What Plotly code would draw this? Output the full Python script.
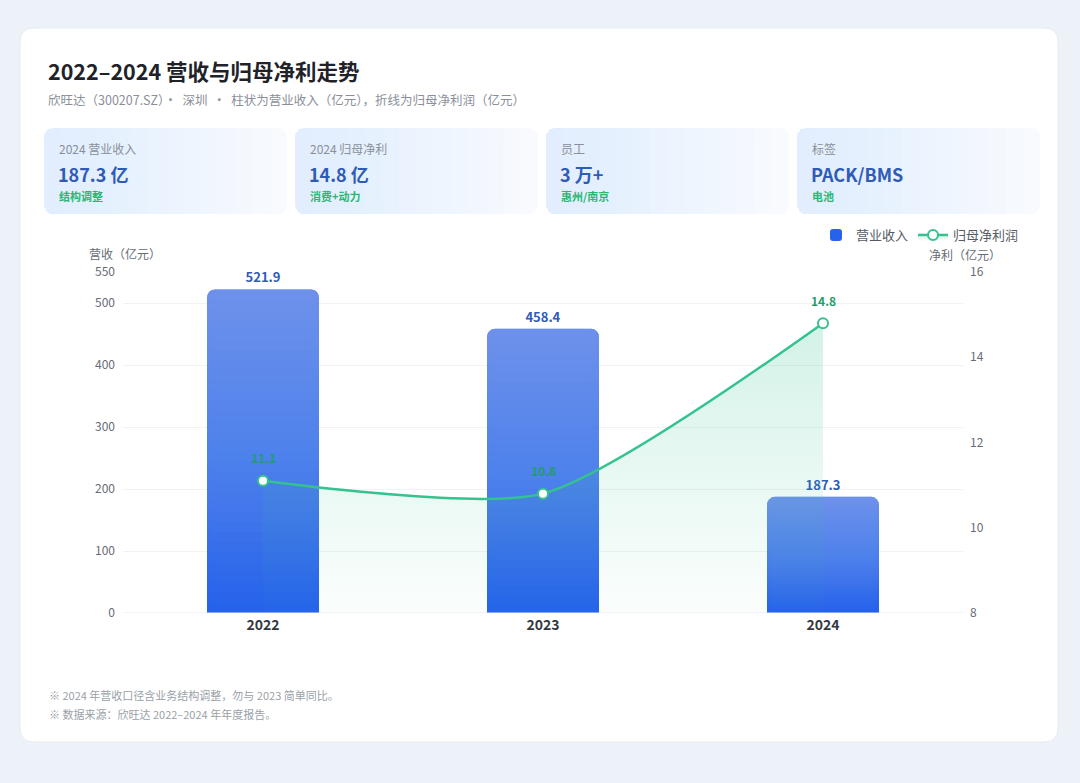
import plotly.graph_objects as go

years = ['2022', '2023', '2024']
revenue = [521.9, 458.4, 187.3]      # 营业收入（亿元）
net_profit = [11.1, 10.8, 14.8]      # 归母净利润（亿元）

rev_ticks = [0, 100, 200, 300, 400, 500, 550]
profit_ticks = [8, 10, 12, 14, 16]

kpi_labels = ['2024 营业收入', '2024 归母净利', '员工', '标签']
kpi_values = ['187.3 亿', '14.8 亿', '3 万+', 'PACK/BMS']
kpi_notes = ['结构调整', '消费+动力', '惠州/南京', '电池']

notes = ['※ 2024 年营收口径含业务结构调整，勿与 2023 简单同比。',
         '※ 数据来源：欣旺达 2022–2024 年年度报告。']

FONT = 'Noto Sans CJK SC'
W, H = 1080, 783
# plot area in pixels
L, R, T, B = 123, 963, 272, 613


def px(x):
    return (x - L) / (R - L)


def py(y):
    return (B - y) / (B - T)


def rrect(x0, y0, x1, y1, r, rr=None):
    # rounded rectangle path in paper coords, given pixel box (rr = right radius)
    if rr is None:
        rr = r
    pts = [
        f'M {px(x0 + r)},{py(y0)}',
        f'L {px(x1 - rr)},{py(y0)}',
        f'Q {px(x1)},{py(y0)} {px(x1)},{py(y0 + rr)}',
        f'L {px(x1)},{py(y1 - rr)}',
        f'Q {px(x1)},{py(y1)} {px(x1 - rr)},{py(y1)}',
        f'L {px(x0 + r)},{py(y1)}',
        f'Q {px(x0)},{py(y1)} {px(x0)},{py(y1 - r)}',
        f'L {px(x0)},{py(y0 + r)}',
        f'Q {px(x0)},{py(y0)} {px(x0 + r)},{py(y0)}',
        'Z',
    ]
    return ' '.join(pts)


fig = go.Figure()

# base bars
fig.add_trace(go.Bar(
    x=years, y=revenue, name='营业收入', width=0.4,
    marker=dict(color='#2563eb', line=dict(width=0), cornerradius=8),
    text=[f'{v:.1f}' for v in revenue], textposition='outside',
    textfont=dict(color='#2f5bb7', size=13, family=FONT, weight='bold'),
    cliponaxis=False, hoverinfo='skip',
))

# white layers to fake a vertical gradient (lighter at the top)
N = 32
alpha = 1 - 0.6 ** (1 / N)
for k in range(1, N):
    fig.add_trace(go.Bar(
        x=years, y=[v * (1 - k / N) for v in revenue],
        base=[v * k / N for v in revenue], width=0.4,
        marker=dict(color=f'rgba(255,255,255,{alpha:.4f})', line=dict(width=0), cornerradius=8),
        showlegend=False, hoverinfo='skip',
    ))

fig.add_trace(go.Scatter(
    x=years, y=net_profit, name='归母净利润', yaxis='y2',
    mode='lines+markers', line=dict(color='#34c38f', width=2.5, shape='spline', smoothing=0.65),
    marker=dict(size=10, color='white', line=dict(color='#34c38f', width=2)),
    fill='tozeroy',
    fillgradient=dict(type='vertical', start=8, stop=15,
                      colorscale=[[0, 'rgba(52,195,143,0.02)'], [1, 'rgba(52,195,143,0.22)']]),
    cliponaxis=False, hoverinfo='skip',
))

shapes = [
    dict(type='path', xref='paper', yref='paper', path=rrect(20, 28, 1058, 742, 14),
         fillcolor='white', line=dict(width=1, color='#e6ebf3'), layer='below'),
]
# KPI cards, fading to white towards the right
NL = 14
for i in range(4):
    x0 = 44 + i * 251
    shapes.append(dict(type='path', xref='paper', yref='paper', path=rrect(x0, 128, x0 + 243, 214, 10),
                       fillcolor='#fafbfe', line=dict(width=0), layer='below'))
    for j in range(NL):
        shapes.append(dict(type='path', xref='paper', yref='paper',
                           path=rrect(x0, 128, x0 + 243 * (1 - j / NL), 214, 10, rr=0 if j else 10),
                           fillcolor='rgba(214,229,246,0.04)', line=dict(width=0), layer='below'))

ann = []


def text(x, y, s, size, color, bold=False, xanchor='left'):
    ann.append(dict(x=px(x), y=py(y), xref='paper', yref='paper', text=s, showarrow=False,
                    xanchor=xanchor, yanchor='middle',
                    font=dict(family=FONT, size=size, color=color, weight='bold' if bold else 'normal')))


text(46, 70, '2022–2024 营收与归母净利走势', 21.5, '#1f2329', bold=True)
text(46, 99, '欣旺达（300207.SZ）·  深圳  ·  柱状为营业收入（亿元），折线为归母净利润（亿元）', 12.5, '#8a8f99')

for i in range(4):
    x0 = 44 + i * 251
    text(x0 + 13, 148, kpi_labels[i], 12, '#8a8f99')
    text(x0 + 12, 174, kpi_values[i], 18, '#2f5bb7', bold=True)
    text(x0 + 13, 196, kpi_notes[i], 11, '#2bb673', bold=True)

text(87, 253, '营收（亿元）', 12, '#666b75')
text(927, 254, '净利（亿元）', 12, '#666b75')

for j, s in enumerate(notes):
    text(47, 695 + j * 19, s, 11, '#9a9fa8')

# net profit value labels above the points (x given as category index)
for i, v in enumerate(net_profit):
    ann.append(dict(x=i, y=v, xref='x', yref='y2', text=f'{v:.1f}', showarrow=False,
                    yshift=23, font=dict(family=FONT, size=12, color='#1f9d6a', weight='bold')))

fig.update_layout(
    width=W, height=H,
    margin=dict(l=L, r=W - R, t=T, b=H - B),
    paper_bgcolor='#edf1f8', plot_bgcolor='rgba(0,0,0,0)',
    barmode='overlay', bargap=0.6,
    font=dict(family=FONT, size=12, color='#666b75'),
    showlegend=True,
    legend=dict(orientation='h', x=px(1024), xanchor='right', y=py(235), yanchor='middle',
                font=dict(size=13, color='#555a63', family=FONT), bgcolor='rgba(0,0,0,0)',
                itemwidth=30, traceorder='normal'),
    xaxis=dict(type='category', showgrid=False, showline=False, zeroline=False, ticks='',
               tickfont=dict(size=14, color='#333840', family=FONT, weight='bold'), ticklabelstandoff=2),
    yaxis=dict(range=[0, 550], tickvals=rev_ticks, showgrid=True, gridcolor='#f0f2f6', gridwidth=1,
               zeroline=False, showline=False, ticks='', ticklabelstandoff=7,
               tickfont=dict(size=12, color='#666b75')),
    yaxis2=dict(range=[8, 16], tickvals=profit_ticks, overlaying='y', side='right', showgrid=False,
                zeroline=False, showline=False, ticks='', ticklabelstandoff=6,
                tickfont=dict(size=12, color='#666b75')),
    shapes=shapes + [dict(type='line', xref='paper', yref='y', x0=0, x1=1, y0=0, y1=0,
                          line=dict(color='#e3e7ee', width=1))],
    annotations=ann,
)

# drop the default 8px page margin so the figure sits at the window corner
fig.write_html('out.html', config={'displayModeBar': False},
               post_script="document.body.style.margin='0';")
